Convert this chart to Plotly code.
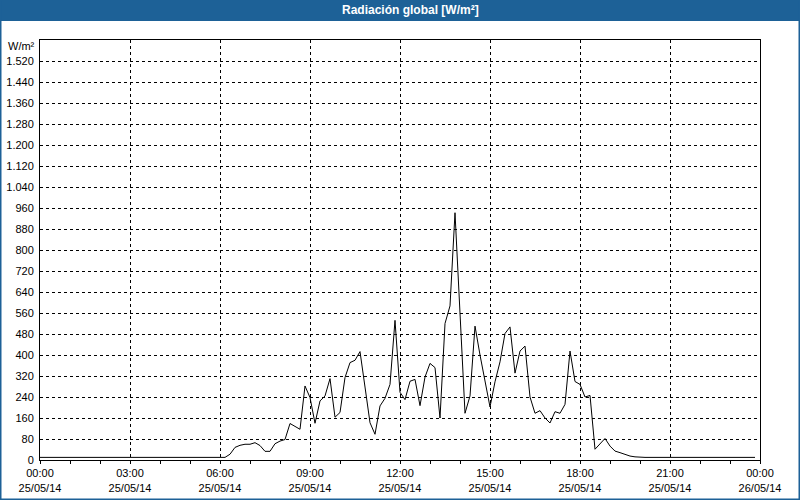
import plotly.graph_objects as go
import pandas as pd

title_text = "Radiación global [W/m²]"
unit_label = "W/m²"

# 10-minute samples, 25/05/14 00:00 .. 23:50
times = pd.date_range("2014-05-25 00:00", periods=144, freq="10min")
radiation = [
    10, 10, 10, 10, 10, 10, 10, 10, 10, 10, 10, 10,
    10, 10, 10, 10, 10, 10, 10, 10, 10, 10, 10, 10,
    10, 10, 10, 10, 10, 10, 10, 10, 10, 10, 10, 10,
    10, 10,
    22, 48, 56, 60, 60, 66, 55, 33, 33, 62,
    72, 78, 139, 128, 117, 282, 238, 140, 225, 244,
    310, 163, 181, 314, 371, 380, 413, 278, 142, 98,
    206, 235, 288, 532, 258, 230, 300, 307, 207, 316,
    368, 352, 160, 520, 587, 942, 560, 178, 244, 510,
    400, 300, 202, 298, 374, 482, 507, 331, 415, 434,
    240, 178, 188, 160, 141, 184, 178, 212, 415, 299,
    288, 240, 246, 41, 60, 82, 53, 34, 28, 22,
    15, 12,
    10, 10, 10, 10, 10, 10, 10, 10, 10, 10, 10, 10,
    10, 10, 10, 10, 10, 10, 10, 10, 10, 10, 10, 10,
]

y_ticks = list(range(0, 1600, 80))
y_tick_labels = [f"{v:,}".replace(",", ".") for v in y_ticks]

x_ticks = pd.date_range("2014-05-25 00:00", "2014-05-26 00:00", freq="3h")
x_tick_labels = [t.strftime("%H:%M") + "<br>" + t.strftime("%d/%m/%y") for t in x_ticks]

FONT = "Liberation Sans, Arial, sans-serif"
BLUE = "#1d6197"

fig = go.Figure()
fig.add_trace(go.Scatter(
    x=times, y=radiation, mode="lines",
    line=dict(color="black", width=1), hoverinfo="skip", showlegend=False,
))

fig.update_layout(
    width=800, height=500,
    margin=dict(l=40, r=40, t=40, b=40, autoexpand=False),
    paper_bgcolor="white", plot_bgcolor="white",
    font=dict(family=FONT, size=11, color="black"),
    showlegend=False,
    xaxis=dict(
        range=[x_ticks[0], x_ticks[-1]], automargin=False,
        tickmode="array", tickvals=list(x_ticks), ticktext=x_tick_labels,
        showgrid=True, gridcolor="black", gridwidth=1, griddash="3px,3px",
        showline=True, linecolor="black", linewidth=1, mirror=True,
        ticks="outside", ticklen=3, tickcolor="black",
        minor=dict(dtick=3600000, ticks="outside", ticklen=3, tickcolor="black", showgrid=False),
        zeroline=False, fixedrange=True,
    ),
    yaxis=dict(
        range=[0, 1600], automargin=False,
        tickmode="array", tickvals=y_ticks, ticktext=y_tick_labels,
        showgrid=True, gridcolor="black", gridwidth=1, griddash="3px,3px",
        showline=True, linecolor="black", linewidth=1, mirror=True,
        ticks="", ticklabelstandoff=3,
        zeroline=False, fixedrange=True,
    ),
    shapes=[
        dict(type="rect", xref="paper", yref="paper", x0=-0.06, x1=1.06, y0=1.0 + 19/420, y1=1.0 + 40/420,
             fillcolor=BLUE, line=dict(width=0), layer="above"),
        dict(type="rect", xref="paper", yref="paper", x0=-40/720 + 0.5/720, x1=1 + 40/720 - 0.5/720,
             y0=-40/420 + 0.5/420, y1=1.0 + 40/420, line=dict(color=BLUE, width=2), fillcolor="rgba(0,0,0,0)",
             layer="above"),
    ],
    annotations=[
        dict(text="<b>" + title_text + "</b>", xref="paper", yref="paper", x=0.5, y=1.0 + 30/420,
             xanchor="center", yanchor="middle", xshift=10, showarrow=False,
             font=dict(family=FONT, size=12, color="white")),
        dict(text=unit_label, xref="paper", yref="paper", x=0, y=1, xanchor="right", yanchor="middle",
             xshift=-3, yshift=-6, showarrow=False, font=dict(family=FONT, size=11, color="black")),
    ],
)

fig.write_html("out.html")
